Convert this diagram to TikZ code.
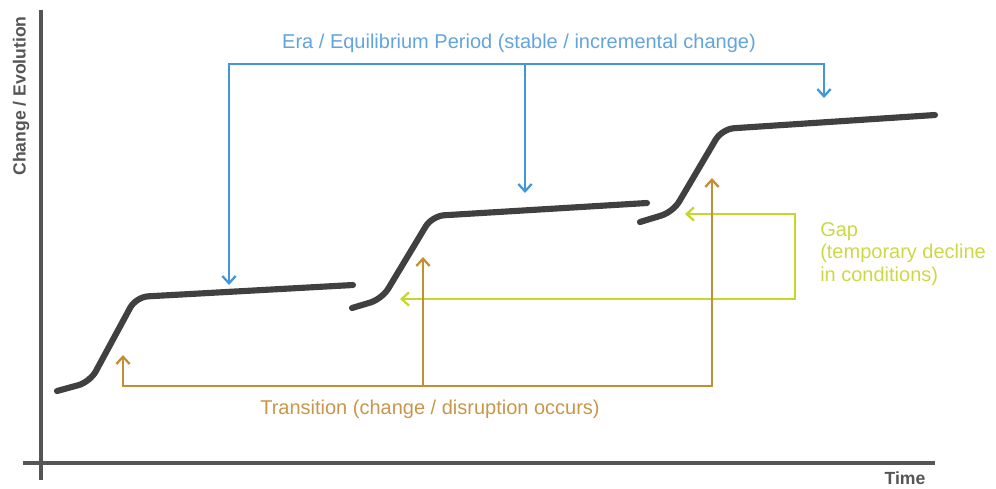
\documentclass[tikz,border=0pt]{standalone}
\usepackage{fontspec}
\setmainfont{Liberation Sans}
\usetikzlibrary{arrows.meta}
\definecolor{eraBlue}{RGB}{66,150,218}
\definecolor{eraText}{RGB}{98,164,220}
\definecolor{trBrown}{RGB}{196,142,52}
\definecolor{trText}{RGB}{200,150,75}
\definecolor{gapGreen}{RGB}{200,214,40}
\definecolor{gapText}{RGB}{205,216,70}
\definecolor{axisGray}{RGB}{85,85,85}
\definecolor{curveGray}{RGB}{64,64,64}
\begin{document}
\begin{tikzpicture}[x=0.75pt,y=-0.75pt,
  tip/.tip={Straight Barb[length=5.5pt,width=10pt]},
  bracket/.style={line width=1.7pt, line join=miter},
  blueln/.style={bracket, draw=eraBlue},
  brownln/.style={bracket, draw=trBrown},
  greenln/.style={bracket, draw=gapGreen},
  axisln/.style={line width=2.6pt, draw=axisGray},
  curveln/.style={line width=4.6pt, draw=curveGray, line cap=round, line join=round, rounded corners=9pt},
  lbl/.style={font=\fontsize{15pt}{17pt}\selectfont, inner sep=0pt},
  axlbl/.style={font=\bfseries\fontsize{13.2pt}{15pt}\selectfont, text=axisGray, inner sep=0pt}]
\useasboundingbox (0,0) rectangle (996,489);

% axes
\coordinate (yTop) at (41,10);
\coordinate (yBot) at (41,480);
\coordinate (xLeft) at (23,463);
\coordinate (xRight) at (935,463);
\draw[axisln] (yTop) -- (yBot);
\draw[axisln] (xLeft) -- (xRight);
\node[axlbl, rotate=90] (ylabel) at (21,96) {Change / Evolution};
\node[axlbl] (xlabel) at (905,478) {Time};

% curves
\draw[curveln] (57,391) -- (90,382) -- (136,297) -- (353,285);
\draw[curveln] (352,308) -- (382,299) -- (432,216) -- (647,203);
\draw[curveln] (640,222) -- (673,212) -- (722,129) -- (935,115);

% Era bracket
\coordinate (eraL) at (229,64);
\coordinate (eraM) at (525,64);
\coordinate (eraR) at (824,64);
\coordinate (eraT1) at (229,285);
\coordinate (eraT2) at (525,193);
\coordinate (eraT3) at (824,98);
\draw[blueln, {tip}-{tip}] (eraT1) -- (eraL) -- (eraR) -- (eraT3);
\draw[blueln, -{tip}] (eraM) -- (eraT2);
\node[lbl, text=eraText] (eraLabel) at (519,43) {Era / Equilibrium Period (stable / incremental change)};

% Gap bracket
\coordinate (gapT1) at (685,214);
\coordinate (gapA) at (795,214);
\coordinate (gapB) at (795,299);
\coordinate (gapT2) at (400,299);
\draw[greenln, {tip}-{tip}] (gapT1) -- (gapA) -- (gapB) -- (gapT2);
\node[lbl, text=gapText, anchor=north west, align=left] (gapLabel) at (820,222) {Gap\\(temporary decline\\in conditions)};

% Transition bracket
\coordinate (trL) at (123,386);
\coordinate (trM) at (423,386);
\coordinate (trR) at (712,386);
\coordinate (trT1) at (123,355);
\coordinate (trT2) at (423,257);
\coordinate (trT3) at (712,178);
\draw[brownln, {tip}-{tip}] (trT1) -- (trL) -- (trR) -- (trT3);
\draw[brownln, -{tip}] (trM) -- (trT2);
\node[lbl, text=trText] (trLabel) at (430,409) {Transition (change / disruption occurs)};
\end{tikzpicture}
\end{document}
